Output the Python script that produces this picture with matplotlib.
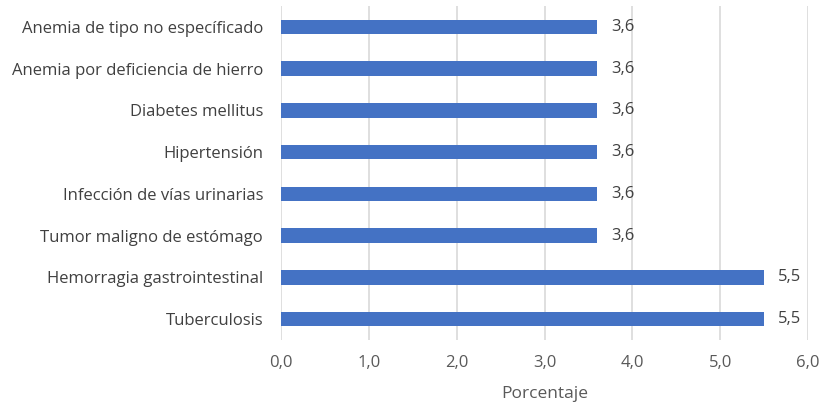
import matplotlib.pyplot as plt

# causes, bottom to top
causas = ['Tuberculosis', 'Hemorragia gastrointestinal', 'Tumor maligno de estómago',
          'Infección de vías urinarias', 'Hipertensión', 'Diabetes mellitus',
          'Anemia por deficiencia de hierro', 'Anemia de tipo no específicado']
porcentaje = [5.5, 5.5, 3.6, 3.6, 3.6, 3.6, 3.6, 3.6]
xticks = [0, 1, 2, 3, 4, 5, 6]

plt.rcParams['font.family'] = ['Open Sans', 'DejaVu Sans']
color_txt = '#595959'

fig = plt.figure(figsize=(8.22, 4.07), dpi=100)
ax = fig.add_axes([0.342, 0.165, 0.641, 0.820])

pos = list(range(len(causas)))
ax.barh(pos, porcentaje, height=0.35, color='#4472C4', zorder=3)

for y, v in zip(pos, porcentaje):
    ax.text(v + 0.16, y, '{:.1f}'.format(v).replace('.', ','), va='center', ha='left',
            fontsize=12, color='#404040')

ax.set_xlim(0, 6)
ax.set_ylim(-0.5, len(causas) - 0.5)
ax.set_xticks(xticks)
ax.set_xticklabels(['{:.1f}'.format(t).replace('.', ',') for t in xticks],
                   fontsize=12, color=color_txt)
ax.set_yticks(pos)
ax.set_yticklabels(causas, fontsize=12, color='#404040')
ax.tick_params(length=0)
ax.tick_params(axis='x', pad=11)
ax.tick_params(axis='y', pad=13)

ax.grid(axis='x', color='#D9D9D9', linewidth=1.2, zorder=0)
for s in ax.spines.values():
    s.set_visible(False)

ax.set_xlabel('Porcentaje', fontsize=12.5, color=color_txt, labelpad=11)

fig.savefig('out.png', dpi=100)
